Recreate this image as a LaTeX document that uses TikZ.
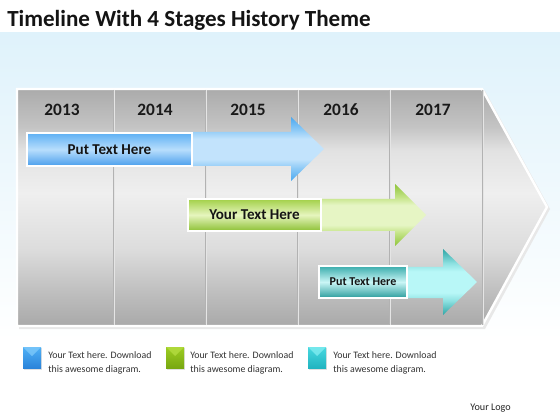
\documentclass[tikz,border=0pt]{standalone}
\usepackage{fontspec}
\setmainfont{Carlito}
\definecolor{bgtop}{HTML}{DFF2FB}
\definecolor{pA}{HTML}{A9A9A9}
\definecolor{pB}{HTML}{BEBEBE}
\definecolor{pC}{HTML}{DCDCDC}
\definecolor{pD}{HTML}{EFEFEF}
\definecolor{pE}{HTML}{E2E2E2}
\definecolor{pF}{HTML}{C4C4C4}
\definecolor{pG}{HTML}{ABABAB}
\pgfdeclareverticalshading{panelsh}{100bp}{color(0bp)=(pA); color(25bp)=(pA); color(32bp)=(pB); color(41bp)=(pC); color(53bp)=(pD); color(62bp)=(pE); color(67bp)=(pF); color(75bp)=(pG); color(100bp)=(pG)}
\definecolor{bA}{HTML}{4AA8F0}\definecolor{bB}{HTML}{94CDF7}\definecolor{bC}{HTML}{C2E3FC}
\definecolor{gA}{HTML}{8FC43A}\definecolor{gB}{HTML}{C6E58A}\definecolor{gC}{HTML}{E6F5C4}
\definecolor{tA}{HTML}{2FA5A5}\definecolor{tB}{HTML}{8FE2E2}\definecolor{tC}{HTML}{B8F7F7}
\pgfdeclareverticalshading{bluearr}{100bp}{color(0bp)=(bA); color(25bp)=(bA); color(36bp)=(bB); color(42bp)=(bC); color(58bp)=(bC); color(64bp)=(bB); color(75bp)=(bA); color(100bp)=(bA)}
\pgfdeclareverticalshading{greenarr}{100bp}{color(0bp)=(gA); color(25bp)=(gA); color(36bp)=(gB); color(42bp)=(gC); color(58bp)=(gC); color(64bp)=(gB); color(75bp)=(gA); color(100bp)=(gA)}
\pgfdeclareverticalshading{tealarr}{100bp}{color(0bp)=(tA); color(25bp)=(tA); color(36bp)=(tB); color(42bp)=(tC); color(58bp)=(tC); color(64bp)=(tB); color(75bp)=(tA); color(100bp)=(tA)}
\definecolor{bxT}{HTML}{5EB0F4}\definecolor{bxM}{HTML}{B8DEFC}\definecolor{bxB}{HTML}{4A9EEC}
\definecolor{gxT}{HTML}{A2D048}\definecolor{gxM}{HTML}{E6F5BE}\definecolor{gxB}{HTML}{8CC034}
\definecolor{txT}{HTML}{3AACAC}\definecolor{txM}{HTML}{CAF6F6}\definecolor{txB}{HTML}{2A9C9C}
\definecolor{lbT}{HTML}{4FB0F6}\definecolor{lbB}{HTML}{2A84DA}\definecolor{lbF}{HTML}{7CC8FA}
\definecolor{lgT}{HTML}{9CCC22}\definecolor{lgB}{HTML}{78A810}\definecolor{lgF}{HTML}{B4DC40}
\definecolor{ltT}{HTML}{48D8E0}\definecolor{ltB}{HTML}{20B4C0}\definecolor{ltF}{HTML}{80ECF0}
\begin{document}
\begin{tikzpicture}[x=0.75pt,y=-0.75pt,
  yearlbl/.style={font=\fontsize{13}{15}\selectfont\bfseries, text=black!90, inner sep=0pt, anchor=base},
  boxlbl/.style={font=\fontsize{11.3}{13}\selectfont\bfseries, text=black!92, inner sep=0pt},
  legtxt/.style={font=\fontsize{7.4}{10.9}\selectfont, text=black!80, align=left, inner sep=0pt, anchor=north west},
  divider/.style={draw=black!30, line width=0.6pt},
  bluebox/.style={draw=white, line width=1.2pt, top color=bxT, bottom color=bxB, middle color=bxM},
  greenbox/.style={draw=white, line width=1.2pt, top color=gxT, bottom color=gxB, middle color=gxM},
  tealbox/.style={draw=white, line width=1.2pt, top color=txT, bottom color=txB, middle color=txM}
]
\useasboundingbox (0,0) rectangle (560,420);
% background
\fill[white] (0,0) rectangle (560,420);
\shade[top color=bgtop, bottom color=white] (0,33) rectangle (560,340);
% title
\node[anchor=base west, inner sep=0pt, font=\fontsize{17.3}{20}\selectfont\bfseries, text=black!92] (title) at (7,27) {Timeline With 4 Stages History Theme};
% panel shadow and panel
\fill[black!9] (19,91) -- (485,91) -- (550,209) -- (485,329) -- (19,329) -- cycle;
\shade[shading=panelsh, draw=white, line width=1.8pt] (17,89) -- (482,89) -- (547,207) -- (482,326) -- (17,326) -- cycle;
% dividers
\foreach \xx in {113,205,297,389,482}{
  \draw[divider] (\xx,90) -- (\xx,325);
  \draw[white!90!black, line width=0.5pt] (\xx+0.9,90) -- (\xx+0.9,325);
}
% years
\node[yearlbl] (y13) at (62,116) {2013};
\node[yearlbl] (y14) at (155,116) {2014};
\node[yearlbl] (y15) at (248,116) {2015};
\node[yearlbl] (y16) at (341,116) {2016};
\node[yearlbl] (y17) at (433,116) {2017};
% blue arrow
\shade[shading=bluearr] (150,132) -- (291,132) -- (291,117) -- (324,149) -- (291,181) -- (291,166) -- (150,166) -- cycle;
\path[bluebox] (27,133) rectangle (192,166);
\node[boxlbl] (b1) at (109.5,149.5) {Put Text Here};
% green arrow
\shade[shading=greenarr] (260,199) -- (395,199) -- (395,184) -- (426,215) -- (395,246) -- (395,231) -- (260,231) -- cycle;
\path[greenbox] (188,199) rectangle (321,231);
\node[boxlbl] (b2) at (254.5,215) {Your Text Here};
% teal arrow
\shade[shading=tealarr] (370,267) -- (443,267) -- (443,249) -- (477,282) -- (443,315) -- (443,298) -- (370,298) -- cycle;
\path[tealbox] (319,266) rectangle (407,298);
\node[boxlbl, font=\fontsize{9}{11}\selectfont\bfseries] (b3) at (363,282) {Put Text Here};
% legend
\foreach \lx/\ca/\cb/\cc in {23/lbT/lbB/lbF, 166/lgT/lgB/lgF, 308/ltT/ltB/ltF}{
  \fill[black!12] (\lx+1,348) rectangle (\lx+19,369.5);
  \shade[top color=\ca, bottom color=\cb] (\lx,347) rectangle (\lx+18,368);
  \fill[\cc, opacity=0.8] (\lx,347) -- (\lx+18,347) -- (\lx+9,356) -- cycle;
}
\node[legtxt] (l1) at (48,351) {Your Text here. Download\\this awesome diagram.};
\node[legtxt] (l2) at (190,351) {Your Text here. Download\\this awesome diagram.};
\node[legtxt] (l3) at (333,351) {Your Text here. Download\\this awesome diagram.};
\node[anchor=base east, inner sep=0pt, font=\fontsize{7.6}{9}\selectfont, text=black!85] (logo) at (511,410) {Your Logo};
\end{tikzpicture}
\end{document}
